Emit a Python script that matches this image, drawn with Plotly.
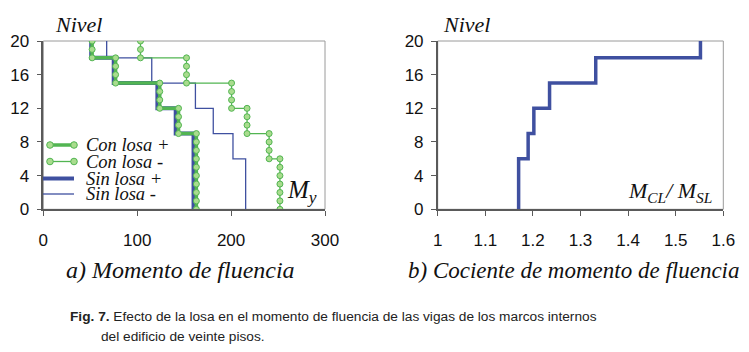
import plotly.graph_objects as go

# ---------------- data ----------------
# Step-profile vertices: level (Nivel) vs yield moment (M_y)
nivel_con_pos = [0, 1, 2, 3, 4, 5, 6, 7, 8, 9, 9, 10, 11, 12, 12, 13, 14, 15, 15, 16, 17, 18, 18, 19, 20]
mom_con_pos = [163, 163, 163, 163, 163, 163, 163, 163, 163, 163,
               144, 144, 144, 144,
               124, 124, 124, 124,
               77, 77, 77, 77,
               52, 52, 52]

nivel_con_neg = [0, 1, 2, 3, 4, 5, 6, 6, 7, 8, 9, 9, 10, 11, 12, 12, 13, 14, 15, 15, 16, 17, 18, 18, 19, 20]
mom_con_neg = [252, 252, 252, 252, 252, 252, 252,
               240.5, 240.5, 240.5, 240.5,
               217, 217, 217, 217,
               200.5, 200.5, 200.5, 200.5,
               152.5, 152.5, 152.5, 152.5,
               103.5, 103.5, 103.5]

nivel_sin_pos = [0, 9, 9, 12, 12, 15, 15, 18, 18, 20]
mom_sin_pos = [160, 160, 141, 141, 121.5, 121.5, 75, 75, 51, 51]

nivel_sin_neg = [0, 6, 6, 9, 9, 12, 12, 15, 15, 18, 18, 20]
mom_sin_neg = [215.5, 215.5, 202, 202, 181, 181, 162, 162, 115.5, 115.5, 67.5, 67.5]

nivel_ratio = [0, 6, 6, 9, 9, 12, 12, 15, 15, 18, 18, 20]
ratio = [1.17, 1.17, 1.19, 1.19, 1.202, 1.202, 1.235, 1.235, 1.332, 1.332, 1.552, 1.552]

x1_ticks = [0, 100, 200, 300]
x2_ticks = [1, 1.1, 1.2, 1.3, 1.4, 1.5, 1.6]
y_ticks = [0, 4, 8, 12, 16, 20]

legend_names = ["Con losa +", "Con losa -", "Sin losa +", "Sin losa -"]

# ---------------- style ----------------
OFF = 8                      # page body margin
W, H = 749 - OFF, 352 - OFF  # figure size so that it fits the window
GREEN = "#52b552"
GREEN_FILL = "#a9dc8e"
BLUE = "#3f50a0"
AXIS = "#5a5a5a"
BOX = "#9a9a9a"
SERIF = "Liberation Serif, Times New Roman, serif"
SANS = "Liberation Sans, Arial, sans-serif"

def px_x(p):
    return (p - OFF) / W

def px_y(p):
    return 1 - (p - OFF) / H

fig = go.Figure()

# left panel traces
fig.add_trace(go.Scatter(x=mom_sin_neg, y=nivel_sin_neg, mode="lines",
                         line=dict(color=BLUE, width=1.3), xaxis="x", yaxis="y"))
fig.add_trace(go.Scatter(x=mom_sin_pos, y=nivel_sin_pos, mode="lines",
                         line=dict(color=BLUE, width=4), xaxis="x", yaxis="y"))
fig.add_trace(go.Scatter(x=mom_con_neg, y=nivel_con_neg, mode="lines+markers",
                         line=dict(color=GREEN, width=1.3),
                         marker=dict(size=6, color=GREEN_FILL, line=dict(color=GREEN, width=1)),
                         xaxis="x", yaxis="y"))
fig.add_trace(go.Scatter(x=mom_con_pos, y=nivel_con_pos, mode="lines+markers",
                         line=dict(color=GREEN, width=3.5),
                         marker=dict(size=6, color=GREEN_FILL, line=dict(color=GREEN, width=1)),
                         xaxis="x", yaxis="y"))

# right panel trace
fig.add_trace(go.Scatter(x=ratio, y=nivel_ratio, mode="lines",
                         line=dict(color=BLUE, width=3.5), xaxis="x2", yaxis="y2"))

# plot-area geometry in window pixels
L1, R1 = 43.3, 325.0
L2, R2 = 437.7, 723.3
TOP, BOT = 41.0, 209.3

common_axis = dict(showgrid=False, zeroline=False, showline=True, linecolor=AXIS, linewidth=1.5,
                   ticks="outside", ticklen=5, tickcolor=AXIS, tickwidth=1, automargin=False,
                   tickfont=dict(family=SANS, size=17, color="#111111"), fixedrange=True)

fig.update_layout(
    width=W, height=H,
    margin=dict(l=0, r=0, t=0, b=0, autoexpand=False),
    paper_bgcolor="white", plot_bgcolor="white",
    showlegend=False,
    xaxis=dict(domain=[px_x(L1), px_x(R1)], range=[0, 300], tickvals=x1_ticks,
               anchor="y", ticklabelstandoff=10, **common_axis),
    yaxis=dict(domain=[px_y(BOT), px_y(TOP)], range=[0, 20], tickvals=y_ticks,
               anchor="x", ticklabelstandoff=4, **common_axis),
    xaxis2=dict(domain=[px_x(L2), px_x(R2)], range=[1, 1.6], tickvals=x2_ticks,
                anchor="y2", ticklabelstandoff=10, **common_axis),
    yaxis2=dict(domain=[px_y(BOT), px_y(TOP)], range=[0, 20], tickvals=y_ticks,
                anchor="x2", ticklabelstandoff=4, **common_axis),
)

shapes = []
# light frame (top/right borders)
for xr, yr in (("x domain", "y domain"), ("x2 domain", "y2 domain")):
    shapes.append(dict(type="rect", xref=xr, yref=yr, x0=0, x1=1, y0=0, y1=1,
                       line=dict(color=BOX, width=1), layer="below"))

# legend keys (manual, tight spacing as in the original)
leg_x0, leg_x1 = 48, 74
leg_rows = [145, 161.5, 178.5, 194]
leg_styles = [(GREEN, 3.5, True), (GREEN, 1.3, True), (BLUE, 4, False), (BLUE, 1.3, False)]
for yy, (col, wid, mk) in zip(leg_rows, leg_styles):
    shapes.append(dict(type="line", xref="paper", yref="paper",
                       x0=px_x(leg_x0 if mk else 43), x1=px_x(leg_x1), y0=px_y(yy), y1=px_y(yy),
                       line=dict(color=col, width=wid), layer="above"))
    if mk:
        for cx in (leg_x0 + 2, leg_x1):
            shapes.append(dict(type="circle", xref="paper", yref="paper",
                               xsizemode="pixel", ysizemode="pixel",
                               xanchor=px_x(cx), yanchor=px_y(yy),
                               x0=-3.3, x1=3.3, y0=-3.3, y1=3.3,
                               fillcolor=GREEN_FILL, line=dict(color=GREEN, width=1),
                               layer="above"))
fig.update_layout(shapes=shapes)

ann = []
for name, yy in zip(legend_names, leg_rows):
    ann.append(dict(text=f"<i>{name}</i>", x=px_x(84), y=px_y(yy), xref="paper", yref="paper",
                    xanchor="left", yanchor="middle", showarrow=False,
                    font=dict(family=SERIF, size=18.5, color="#111111")))

# axis titles
ann.append(dict(text="<i>Nivel</i>", x=px_x(78), y=px_y(25), xref="paper", yref="paper",
                xanchor="center", yanchor="middle", showarrow=False,
                font=dict(family=SERIF, size=22, color="#111111")))
ann.append(dict(text="<i>Nivel</i>", x=px_x(467), y=px_y(25), xref="paper", yref="paper",
                xanchor="center", yanchor="middle", showarrow=False,
                font=dict(family=SERIF, size=22, color="#111111")))
ann.append(dict(text="<i>M<sub>y</sub></i>", x=px_x(302), y=px_y(192), xref="paper", yref="paper",
                xanchor="center", yanchor="middle", showarrow=False,
                font=dict(family=SERIF, size=25, color="#111111")))
ann.append(dict(text="<i>M<sub>CL</sub>/ M<sub>SL</sub></i>", x=px_x(670), y=px_y(192),
                xref="paper", yref="paper", xanchor="center", yanchor="middle", showarrow=False,
                font=dict(family=SERIF, size=22, color="#111111")))

# panel captions
ann.append(dict(text="<i>a) Momento de fluencia</i>", x=px_x(180), y=px_y(270), xref="paper",
                yref="paper", xanchor="center", yanchor="middle", showarrow=False,
                font=dict(family=SERIF, size=24, color="#111111")))
ann.append(dict(text="<i>b) Cociente de momento de fluencia</i>", x=px_x(573), y=px_y(270),
                xref="paper", yref="paper", xanchor="center", yanchor="middle", showarrow=False,
                font=dict(family=SERIF, size=23, color="#111111")))

# figure caption
ann.append(dict(text="<b>Fig. 7.</b> Efecto de la losa en el momento de fluencia de las vigas de los marcos internos",
                x=px_x(68), y=px_y(316), xref="paper", yref="paper", xanchor="left", yanchor="middle",
                showarrow=False, font=dict(family=SANS, size=13.7, color="#222222")))
ann.append(dict(text="del edificio de veinte pisos.",
                x=px_x(99), y=px_y(336), xref="paper", yref="paper", xanchor="left", yanchor="middle",
                showarrow=False, font=dict(family=SANS, size=13.7, color="#222222")))

fig.update_layout(annotations=ann)

fig.write_html("out.html")
